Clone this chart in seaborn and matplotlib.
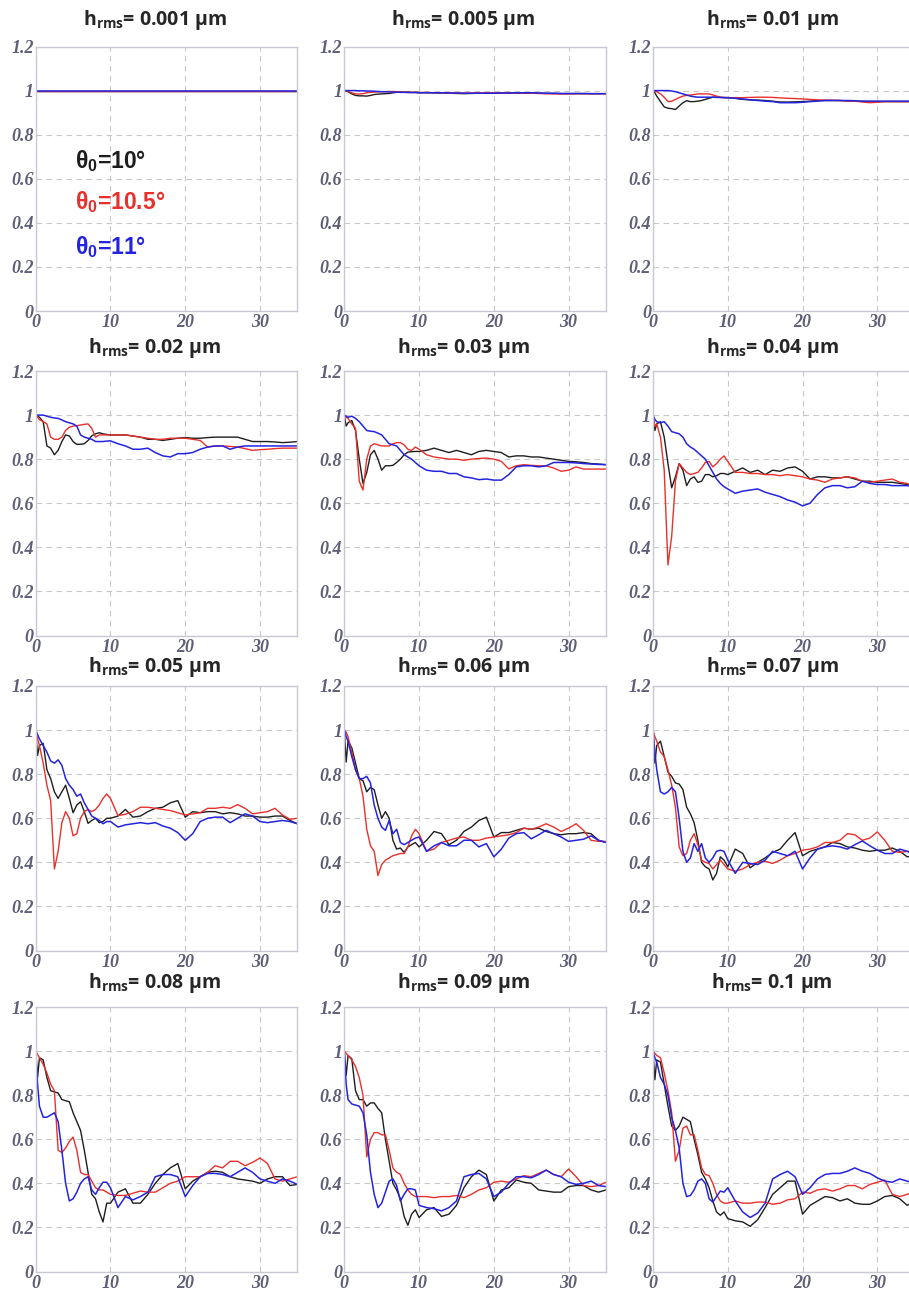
import matplotlib
matplotlib.use("Agg")
import matplotlib.pyplot as plt
import seaborn as sns

# shared abscissa (0..10 in half steps, then unit steps)
x = [0, 0.25, 0.5, 1, 1.5, 2, 2.5, 3, 3.5, 4, 4.5, 5, 5.5, 6, 6.5, 7, 7.5, 8, 8.5, 9, 9.5, 10,
     11, 12, 13, 14, 15, 16, 17, 18, 19, 20, 21, 22, 23, 24, 25, 26, 27, 28, 29, 30, 31, 32, 33, 34, 35]

hrms_labels = ["0.001", "0.005", "0.01", "0.02", "0.03", "0.04",
               "0.05", "0.06", "0.07", "0.08", "0.09", "0.1"]
theta_labels = ["10°", "10.5°", "11°"]
y_ticks = [0, 0.2, 0.4, 0.6, 0.8, 1.0, 1.2]
y_ticklabels = ["0", "0.2", "0.4", "0.6", "0.8", "1", "1.2"]
x_ticks = [0, 10, 20, 30]

# h_rms = 0.001
black_h0001 = [1.0, 1.0, 1.0, 1.0, 1.0, 1.0, 1.0, 1.0, 1.0, 1.0, 1.0, 1.0, 1.0, 1.0, 1.0, 1.0, 1.0, 1.0, 1.0, 1.0, 1.0, 1.0,
               1.0, 1.0, 1.0, 1.0, 1.0, 1.0, 1.0, 1.0, 1.0, 1.0, 1.0, 1.0, 1.0, 1.0, 1.0, 1.0, 1.0, 1.0, 1.0, 1.0, 1.0, 1.0, 1.0, 1.0, 1.0]
red_h0001 = [1.0, 1.0, 1.0, 1.0, 1.0, 1.0, 1.0, 1.0, 1.0, 1.0, 1.0, 1.0, 1.0, 1.0, 1.0, 1.0, 1.0, 1.0, 1.0, 1.0, 1.0, 1.0,
             1.0, 1.0, 1.0, 1.0, 1.0, 1.0, 1.0, 1.0, 1.0, 1.0, 1.0, 1.0, 1.0, 1.0, 1.0, 1.0, 1.0, 1.0, 1.0, 1.0, 1.0, 1.0, 1.0, 1.0, 1.0]
blue_h0001 = [1.0, 1.0, 1.0, 1.0, 1.0, 1.0, 1.0, 1.0, 1.0, 1.0, 1.0, 1.0, 1.0, 1.0, 1.0, 1.0, 1.0, 1.0, 1.0, 1.0, 1.0, 1.0,
              1.0, 1.0, 1.0, 1.0, 1.0, 1.0, 1.0, 1.0, 1.0, 1.0, 1.0, 1.0, 1.0, 1.0, 1.0, 1.0, 1.0, 1.0, 1.0, 1.0, 1.0, 1.0, 1.0, 1.0, 1.0]

# h_rms = 0.005
black_h0005 = [1.0, 0.998, 0.995, 0.985, 0.978, 0.976, 0.976, 0.975, 0.978, 0.982, 0.984, 0.985, 0.986, 0.987, 0.99, 0.992, 0.993, 0.993, 0.993, 0.992, 0.992, 0.991,
               0.991, 0.99, 0.989, 0.988, 0.987, 0.986, 0.987, 0.988, 0.988, 0.989, 0.989, 0.989, 0.989, 0.988, 0.988, 0.988, 0.987, 0.987, 0.986, 0.986, 0.986, 0.986, 0.986, 0.986, 0.986]
red_h0005 = [1.0, 0.999, 0.997, 0.99, 0.985, 0.984, 0.986, 0.99, 0.992, 0.993, 0.994, 0.995, 0.995, 0.996, 0.996, 0.995, 0.994, 0.993, 0.993, 0.992, 0.992, 0.991,
             0.991, 0.99, 0.99, 0.989, 0.989, 0.989, 0.989, 0.989, 0.99, 0.99, 0.99, 0.991, 0.99, 0.989, 0.988, 0.987, 0.986, 0.985, 0.985, 0.985, 0.986, 0.986, 0.986, 0.986, 0.986]
blue_h0005 = [1.0, 1.0, 1.0, 1.0, 1.0, 0.999, 0.999, 0.998, 0.998, 0.997, 0.996, 0.995, 0.995, 0.994, 0.993, 0.993, 0.992, 0.992, 0.991, 0.991, 0.991, 0.99,
              0.99, 0.99, 0.99, 0.989, 0.989, 0.988, 0.988, 0.988, 0.988, 0.988, 0.989, 0.989, 0.99, 0.99, 0.99, 0.989, 0.988, 0.988, 0.987, 0.987, 0.987, 0.987, 0.986, 0.986, 0.986]

# h_rms = 0.01
black_h001 = [1.0, 0.99, 0.975, 0.95, 0.926, 0.92, 0.918, 0.914, 0.93, 0.945, 0.954, 0.95, 0.95, 0.952, 0.955, 0.96, 0.965, 0.97, 0.97, 0.969, 0.968, 0.968,
              0.965, 0.96, 0.958, 0.957, 0.955, 0.952, 0.948, 0.948, 0.949, 0.95, 0.952, 0.955, 0.955, 0.955, 0.955, 0.953, 0.952, 0.951, 0.95, 0.95, 0.95, 0.95, 0.95, 0.95, 0.95]
red_h001 = [1.0, 0.998, 0.995, 0.985, 0.97, 0.95, 0.952, 0.96, 0.968, 0.975, 0.978, 0.98, 0.982, 0.985, 0.985, 0.985, 0.985, 0.98, 0.975, 0.97, 0.969, 0.968,
            0.968, 0.968, 0.969, 0.97, 0.97, 0.969, 0.967, 0.965, 0.964, 0.962, 0.96, 0.958, 0.957, 0.956, 0.955, 0.953, 0.952, 0.948, 0.945, 0.947, 0.95, 0.95, 0.95, 0.95, 0.95]
blue_h001 = [1.0, 1.0, 1.0, 1.0, 1.0, 1.0, 0.998, 0.995, 0.99, 0.985, 0.98, 0.975, 0.972, 0.97, 0.97, 0.97, 0.97, 0.97, 0.969, 0.969, 0.968, 0.968,
             0.965, 0.962, 0.958, 0.955, 0.952, 0.95, 0.945, 0.945, 0.945, 0.947, 0.95, 0.952, 0.955, 0.955, 0.955, 0.955, 0.954, 0.952, 0.952, 0.952, 0.952, 0.952, 0.952, 0.952, 0.952]

# h_rms = 0.02
black_h002 = [1.0, 0.995, 0.99, 0.97, 0.86, 0.85, 0.82, 0.84, 0.88, 0.91, 0.905, 0.88, 0.867, 0.868, 0.87, 0.885, 0.906, 0.915, 0.92, 0.915, 0.912, 0.91,
              0.91, 0.91, 0.905, 0.9, 0.89, 0.89, 0.885, 0.89, 0.895, 0.898, 0.895, 0.895, 0.898, 0.9, 0.9, 0.9, 0.9, 0.89, 0.88, 0.88, 0.88, 0.878, 0.875, 0.877, 0.88]
red_h002 = [1.0, 0.99, 0.98, 0.97, 0.96, 0.9, 0.89, 0.89, 0.9, 0.93, 0.945, 0.95, 0.952, 0.955, 0.958, 0.96, 0.94, 0.9, 0.91, 0.91, 0.91, 0.91,
            0.91, 0.91, 0.905, 0.9, 0.895, 0.89, 0.89, 0.895, 0.895, 0.895, 0.89, 0.885, 0.855, 0.86, 0.86, 0.858, 0.855, 0.848, 0.84, 0.843, 0.845, 0.848, 0.85, 0.85, 0.85]
blue_h002 = [1.0, 1.0, 1.0, 1.0, 0.995, 0.99, 0.987, 0.985, 0.978, 0.97, 0.965, 0.96, 0.95, 0.91, 0.9, 0.895, 0.89, 0.88, 0.88, 0.88, 0.882, 0.883,
             0.87, 0.86, 0.845, 0.845, 0.85, 0.83, 0.815, 0.81, 0.825, 0.825, 0.83, 0.845, 0.855, 0.86, 0.86, 0.845, 0.855, 0.86, 0.86, 0.86, 0.86, 0.86, 0.86, 0.86, 0.86]

# h_rms = 0.03
black_h003 = [1.0, 0.95, 0.965, 0.975, 0.93, 0.8, 0.69, 0.74, 0.82, 0.84, 0.8, 0.75, 0.77, 0.77, 0.772, 0.785, 0.8, 0.82, 0.832, 0.834, 0.835, 0.835,
              0.84, 0.85, 0.84, 0.83, 0.84, 0.83, 0.82, 0.835, 0.84, 0.835, 0.83, 0.81, 0.815, 0.815, 0.81, 0.81, 0.805, 0.8, 0.795, 0.79, 0.788, 0.785, 0.78, 0.778, 0.775]
red_h003 = [1.0, 0.99, 0.985, 0.96, 0.94, 0.7, 0.66, 0.8, 0.86, 0.87, 0.865, 0.86, 0.86, 0.86, 0.87, 0.875, 0.875, 0.865, 0.845, 0.84, 0.855, 0.845,
            0.82, 0.81, 0.805, 0.8, 0.8, 0.795, 0.8, 0.803, 0.805, 0.8, 0.79, 0.756, 0.77, 0.775, 0.772, 0.77, 0.77, 0.76, 0.745, 0.75, 0.765, 0.755, 0.755, 0.755, 0.755]
blue_h003 = [1.0, 0.995, 0.99, 0.995, 0.985, 0.97, 0.95, 0.93, 0.927, 0.925, 0.918, 0.91, 0.89, 0.87, 0.865, 0.86, 0.84, 0.82, 0.81, 0.8, 0.785, 0.77,
             0.75, 0.745, 0.745, 0.735, 0.735, 0.72, 0.715, 0.707, 0.71, 0.705, 0.705, 0.73, 0.765, 0.77, 0.77, 0.765, 0.77, 0.785, 0.785, 0.785, 0.783, 0.78, 0.778, 0.776, 0.775]

# h_rms = 0.04
black_h004 = [1.0, 0.93, 0.96, 0.97, 0.9, 0.78, 0.67, 0.72, 0.78, 0.75, 0.68, 0.71, 0.72, 0.695, 0.7, 0.73, 0.73, 0.72, 0.725, 0.735, 0.735, 0.73,
              0.745, 0.76, 0.74, 0.75, 0.73, 0.75, 0.745, 0.76, 0.765, 0.745, 0.71, 0.72, 0.72, 0.715, 0.715, 0.72, 0.71, 0.7, 0.7, 0.695, 0.695, 0.695, 0.69, 0.685, 0.675]
red_h004 = [1.0, 0.95, 0.96, 0.9, 0.75, 0.32, 0.45, 0.7, 0.78, 0.76, 0.74, 0.73, 0.735, 0.74, 0.76, 0.785, 0.79, 0.765, 0.78, 0.8, 0.815, 0.79,
            0.74, 0.74, 0.735, 0.735, 0.73, 0.73, 0.725, 0.73, 0.725, 0.72, 0.71, 0.705, 0.695, 0.71, 0.715, 0.72, 0.715, 0.7, 0.695, 0.7, 0.705, 0.71, 0.695, 0.69, 0.675]
blue_h004 = [1.0, 0.98, 0.97, 0.965, 0.97, 0.95, 0.925, 0.92, 0.915, 0.9, 0.87, 0.855, 0.845, 0.83, 0.815, 0.8, 0.77, 0.74, 0.71, 0.69, 0.675, 0.665,
             0.645, 0.655, 0.66, 0.665, 0.65, 0.64, 0.63, 0.615, 0.605, 0.588, 0.6, 0.64, 0.67, 0.68, 0.68, 0.67, 0.675, 0.7, 0.69, 0.685, 0.685, 0.68, 0.68, 0.68, 0.672]

# h_rms = 0.05
black_h005 = [1.0, 0.885, 0.93, 0.94, 0.82, 0.78, 0.72, 0.69, 0.72, 0.75, 0.69, 0.625, 0.66, 0.675, 0.63, 0.577, 0.59, 0.6, 0.58, 0.585, 0.6, 0.6,
              0.61, 0.64, 0.605, 0.61, 0.63, 0.645, 0.65, 0.67, 0.68, 0.605, 0.63, 0.625, 0.63, 0.63, 0.62, 0.625, 0.62, 0.61, 0.61, 0.605, 0.605, 0.61, 0.61, 0.59, 0.575]
red_h005 = [1.0, 0.96, 0.93, 0.85, 0.75, 0.68, 0.37, 0.45, 0.58, 0.63, 0.6, 0.52, 0.53, 0.6, 0.63, 0.64, 0.63, 0.64, 0.66, 0.69, 0.71, 0.69,
            0.612, 0.618, 0.63, 0.65, 0.65, 0.645, 0.64, 0.635, 0.625, 0.615, 0.62, 0.625, 0.645, 0.645, 0.65, 0.645, 0.662, 0.645, 0.62, 0.625, 0.63, 0.645, 0.615, 0.595, 0.6]
blue_h005 = [1.0, 0.98, 0.96, 0.93, 0.9, 0.86, 0.85, 0.865, 0.84, 0.78, 0.75, 0.73, 0.7, 0.71, 0.67, 0.64, 0.61, 0.6, 0.59, 0.575, 0.585, 0.585,
             0.56, 0.57, 0.575, 0.58, 0.575, 0.58, 0.565, 0.555, 0.535, 0.5, 0.53, 0.585, 0.6, 0.605, 0.605, 0.58, 0.6, 0.62, 0.61, 0.585, 0.58, 0.585, 0.59, 0.585, 0.575]

# h_rms = 0.06
black_h006 = [1.0, 0.855, 0.95, 0.92, 0.85, 0.78, 0.77, 0.72, 0.74, 0.73, 0.66, 0.6, 0.63, 0.6, 0.5, 0.46, 0.465, 0.445, 0.47, 0.48, 0.49, 0.47,
              0.5, 0.54, 0.53, 0.48, 0.5, 0.54, 0.56, 0.59, 0.605, 0.515, 0.535, 0.535, 0.545, 0.555, 0.55, 0.555, 0.54, 0.53, 0.525, 0.53, 0.53, 0.535, 0.53, 0.5, 0.49]
red_h006 = [1.0, 0.99, 0.97, 0.9, 0.82, 0.78, 0.7, 0.55, 0.475, 0.45, 0.34, 0.39, 0.41, 0.42, 0.43, 0.435, 0.44, 0.44, 0.47, 0.52, 0.55, 0.53,
            0.45, 0.46, 0.49, 0.5, 0.51, 0.515, 0.5, 0.5, 0.51, 0.515, 0.52, 0.525, 0.535, 0.555, 0.55, 0.56, 0.575, 0.56, 0.54, 0.555, 0.575, 0.545, 0.5, 0.495, 0.495]
blue_h006 = [1.0, 0.97, 0.95, 0.88, 0.82, 0.78, 0.78, 0.79, 0.76, 0.66, 0.6, 0.56, 0.545, 0.59, 0.53, 0.55, 0.49, 0.48, 0.49, 0.5, 0.51, 0.515,
             0.45, 0.475, 0.49, 0.475, 0.475, 0.5, 0.5, 0.47, 0.485, 0.425, 0.46, 0.51, 0.53, 0.535, 0.507, 0.525, 0.545, 0.53, 0.515, 0.495, 0.5, 0.505, 0.52, 0.5, 0.49]

# h_rms = 0.07
black_h007 = [1.0, 0.85, 0.93, 0.95, 0.88, 0.81, 0.79, 0.76, 0.755, 0.73, 0.65, 0.62, 0.58, 0.5, 0.4, 0.38, 0.37, 0.32, 0.35, 0.425, 0.41, 0.38,
              0.46, 0.44, 0.375, 0.4, 0.42, 0.445, 0.46, 0.5, 0.535, 0.43, 0.45, 0.46, 0.47, 0.49, 0.485, 0.47, 0.465, 0.455, 0.45, 0.455, 0.455, 0.465, 0.45, 0.425, 0.43]
red_h007 = [1.0, 0.97, 0.95, 0.9, 0.88, 0.82, 0.75, 0.65, 0.47, 0.43, 0.44, 0.5, 0.53, 0.48, 0.41, 0.4, 0.395, 0.37, 0.39, 0.41, 0.39, 0.37,
            0.36, 0.37, 0.39, 0.4, 0.405, 0.395, 0.41, 0.43, 0.44, 0.455, 0.46, 0.47, 0.49, 0.49, 0.5, 0.53, 0.525, 0.5, 0.51, 0.538, 0.5, 0.45, 0.445, 0.45, 0.45]
blue_h007 = [1.0, 0.9, 0.82, 0.72, 0.71, 0.72, 0.74, 0.72, 0.6, 0.45, 0.4, 0.42, 0.485, 0.45, 0.485, 0.42, 0.4, 0.42, 0.45, 0.455, 0.45, 0.41,
             0.35, 0.4, 0.395, 0.39, 0.41, 0.45, 0.44, 0.43, 0.45, 0.37, 0.42, 0.46, 0.47, 0.475, 0.47, 0.46, 0.48, 0.497, 0.475, 0.455, 0.44, 0.44, 0.46, 0.45, 0.43]

# h_rms = 0.08
black_h008 = [1.0, 0.88, 0.97, 0.96, 0.88, 0.82, 0.815, 0.81, 0.78, 0.775, 0.77, 0.72, 0.68, 0.64, 0.55, 0.45, 0.35, 0.33, 0.27, 0.225, 0.31, 0.31,
              0.36, 0.375, 0.31, 0.31, 0.35, 0.4, 0.44, 0.47, 0.49, 0.375, 0.41, 0.43, 0.45, 0.455, 0.45, 0.43, 0.42, 0.415, 0.41, 0.4, 0.42, 0.43, 0.43, 0.39, 0.395]
red_h008 = [1.0, 0.985, 0.97, 0.94, 0.9, 0.85, 0.82, 0.55, 0.54, 0.56, 0.59, 0.61, 0.55, 0.45, 0.44, 0.44, 0.41, 0.38, 0.37, 0.37, 0.36, 0.35,
            0.345, 0.345, 0.355, 0.365, 0.36, 0.36, 0.38, 0.4, 0.41, 0.43, 0.43, 0.43, 0.45, 0.48, 0.47, 0.5, 0.5, 0.48, 0.495, 0.515, 0.49, 0.42, 0.41, 0.42, 0.43]
blue_h008 = [1.0, 0.85, 0.75, 0.7, 0.7, 0.71, 0.72, 0.68, 0.55, 0.4, 0.32, 0.33, 0.36, 0.4, 0.42, 0.43, 0.37, 0.35, 0.38, 0.405, 0.405, 0.38,
             0.29, 0.34, 0.325, 0.34, 0.36, 0.43, 0.44, 0.44, 0.43, 0.34, 0.39, 0.43, 0.445, 0.445, 0.44, 0.43, 0.45, 0.47, 0.45, 0.42, 0.41, 0.4, 0.42, 0.41, 0.395]

# h_rms = 0.09
black_h009 = [1.0, 0.89, 0.98, 0.965, 0.82, 0.78, 0.78, 0.75, 0.765, 0.765, 0.74, 0.72, 0.6, 0.5, 0.4, 0.37, 0.33, 0.25, 0.21, 0.26, 0.28, 0.245,
              0.28, 0.29, 0.25, 0.26, 0.3, 0.38, 0.43, 0.46, 0.44, 0.32, 0.37, 0.38, 0.415, 0.405, 0.4, 0.37, 0.365, 0.36, 0.36, 0.385, 0.39, 0.39, 0.37, 0.36, 0.37]
red_h009 = [1.0, 0.99, 0.98, 0.96, 0.93, 0.88, 0.8, 0.52, 0.6, 0.63, 0.63, 0.62, 0.62, 0.55, 0.47, 0.45, 0.44, 0.4, 0.37, 0.35, 0.34, 0.34,
            0.34, 0.335, 0.34, 0.34, 0.345, 0.335, 0.35, 0.37, 0.38, 0.405, 0.41, 0.405, 0.42, 0.435, 0.43, 0.445, 0.46, 0.44, 0.43, 0.465, 0.43, 0.39, 0.385, 0.39, 0.405]
blue_h009 = [1.0, 0.85, 0.78, 0.76, 0.755, 0.75, 0.72, 0.62, 0.45, 0.35, 0.29, 0.31, 0.36, 0.41, 0.42, 0.39, 0.32, 0.35, 0.375, 0.375, 0.37, 0.3,
             0.29, 0.285, 0.275, 0.29, 0.32, 0.43, 0.44, 0.445, 0.42, 0.34, 0.36, 0.4, 0.43, 0.43, 0.425, 0.44, 0.46, 0.44, 0.43, 0.405, 0.395, 0.4, 0.41, 0.39, 0.385]

# h_rms = 0.1
black_h01 = [1.0, 0.87, 0.96, 0.95, 0.85, 0.75, 0.66, 0.64, 0.66, 0.7, 0.69, 0.68, 0.6, 0.53, 0.45, 0.42, 0.38, 0.32, 0.27, 0.255, 0.27, 0.24,
             0.23, 0.225, 0.205, 0.235, 0.29, 0.35, 0.38, 0.41, 0.41, 0.26, 0.3, 0.32, 0.34, 0.335, 0.32, 0.33, 0.31, 0.305, 0.305, 0.32, 0.34, 0.345, 0.33, 0.3, 0.32]
red_h01 = [1.0, 0.99, 0.98, 0.97, 0.9, 0.82, 0.72, 0.5, 0.55, 0.65, 0.66, 0.62, 0.62, 0.55, 0.47, 0.44, 0.435, 0.4, 0.35, 0.32, 0.31, 0.31,
           0.32, 0.31, 0.31, 0.315, 0.315, 0.305, 0.31, 0.325, 0.33, 0.36, 0.355, 0.37, 0.375, 0.365, 0.375, 0.39, 0.39, 0.375, 0.395, 0.405, 0.415, 0.35, 0.34, 0.35, 0.365]
blue_h01 = [1.0, 0.97, 0.95, 0.88, 0.85, 0.8, 0.7, 0.64, 0.56, 0.4, 0.34, 0.345, 0.37, 0.41, 0.42, 0.4, 0.33, 0.315, 0.34, 0.365, 0.36, 0.38,
            0.32, 0.27, 0.245, 0.265, 0.31, 0.42, 0.44, 0.455, 0.43, 0.35, 0.38, 0.42, 0.44, 0.445, 0.445, 0.455, 0.47, 0.455, 0.445, 0.425, 0.41, 0.405, 0.42, 0.41, 0.4]

series_black = [black_h0001, black_h0005, black_h001, black_h002, black_h003, black_h004,
                black_h005, black_h006, black_h007, black_h008, black_h009, black_h01]
series_red = [red_h0001, red_h0005, red_h001, red_h002, red_h003, red_h004,
              red_h005, red_h006, red_h007, red_h008, red_h009, red_h01]
series_blue = [blue_h0001, blue_h0005, blue_h001, blue_h002, blue_h003, blue_h004,
               blue_h005, blue_h006, blue_h007, blue_h008, blue_h009, blue_h01]

for name, grp in (("black", series_black), ("red", series_red), ("blue", series_blue)):
    for lab, s in zip(hrms_labels, grp):
        if len(s) != len(x):
            raise ValueError(f"{name} {lab}: {len(s)} values, expected {len(x)}")

sns.set_style("white")
plt.rcParams["font.family"] = ["Liberation Serif", "DejaVu Serif"]
plt.rcParams["mathtext.default"] = "regular"

colors = ["#1e1e1e", "#e8302c", "#2424e0"]
tick_color = "#5e5e78"

W, H = 909, 1290
fig = plt.figure(figsize=(W / 100, H / 100), dpi=100, facecolor="white")

# layout in pixels
col_left = [35.7, 344.3, 653.0]
row_top = [46.5, 371.0, 686.0, 1007.0]
title_base = [25.0, 353.0, 672.0, 988.0]
ax_w, ax_h = 261.7, 264.5

for i, lab in enumerate(hrms_labels):
    row, col = divmod(i, 3)
    ax = fig.add_axes([col_left[col] / W, 1 - (row_top[row] + ax_h) / H, ax_w / W, ax_h / H])
    ax.set_facecolor("white")
    for ys, c, lw in zip((series_black[i], series_red[i], series_blue[i]), colors, (1.0, 1.0, 1.1)):
        sns.lineplot(x=x, y=ys, ax=ax, color=c, linewidth=lw)

    ax.set_xlim(0, 35)
    ax.set_ylim(0, 1.2)
    ax.set_xticks(x_ticks)
    ax.set_xticklabels([str(t) for t in x_ticks])
    ax.set_yticks(y_ticks)
    ax.set_yticklabels(y_ticklabels)
    ax.set_xlabel("")
    ax.set_ylabel("")
    ax.tick_params(axis="both", length=0, labelcolor=tick_color, labelsize=13)
    ax.tick_params(axis="y", pad=1.5)
    ax.tick_params(axis="x", pad=2.5)
    for t in ax.get_xticklabels() + ax.get_yticklabels():
        t.set_fontstyle("italic")
        t.set_fontweight("bold")
    ax.set_axisbelow(True)
    ax.grid(True, color="#c8c8c8", linewidth=0.8, linestyle=(0, (5, 4)))
    for sp in ax.spines.values():
        sp.set_color("#c9c9d6")
        sp.set_linewidth(1.0)

    # panel title
    fig.text((col_left[col] + 0.455 * ax_w) / W, 1 - title_base[row] / H,
             "h$_{rms}$= " + lab + " µm", ha="center", va="baseline",
             fontsize=14, fontweight="bold", family=["Open Sans", "DejaVu Sans"])

    if i == 0:
        for th, c, yy in zip(theta_labels, colors, (0.68, 0.493, 0.289)):
            ax.text(5.26, yy, "θ$_0$=" + th, color=c, ha="left", va="center",
                    fontsize=16.5, fontweight="bold", family=["Liberation Sans", "DejaVu Sans"])

fig.savefig("out.png", dpi=100, facecolor="white")
